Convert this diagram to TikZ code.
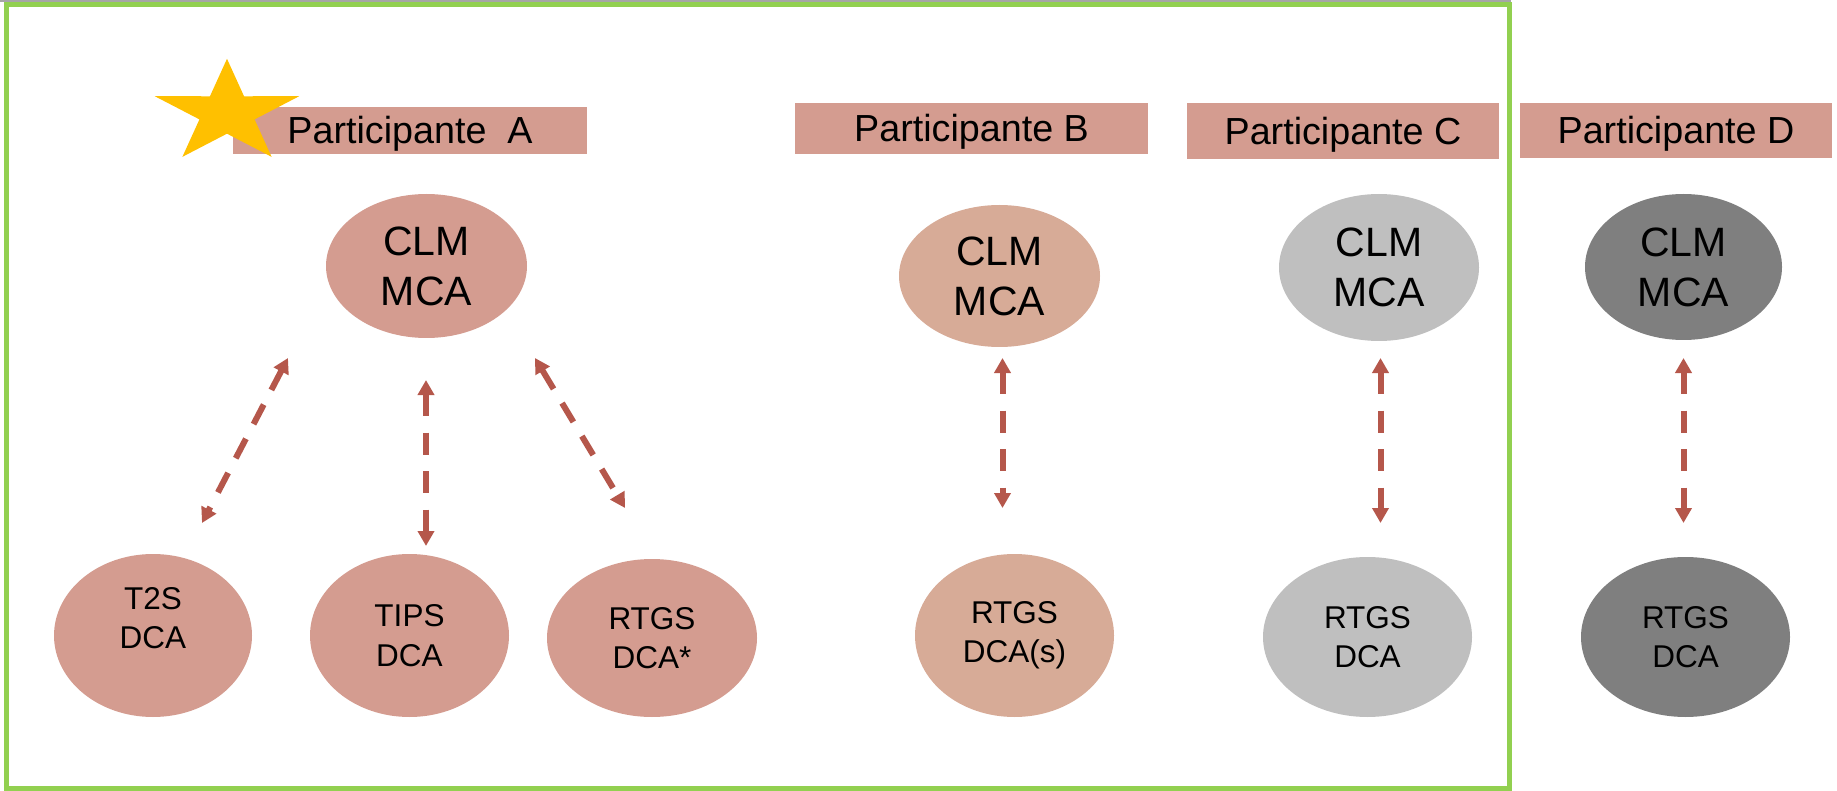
\documentclass[tikz,border=0pt]{standalone}
\usepackage{fontspec}
\setmainfont{Liberation Sans}
\usetikzlibrary{shapes.geometric,arrows.meta}
\definecolor{pinkA}{HTML}{D49C90}
\definecolor{pinkB}{HTML}{D7AB97}
\definecolor{greyC}{HTML}{BFBFBF}
\definecolor{greyD}{HTML}{7F7F7F}
\definecolor{arrowc}{HTML}{B5574B}
\definecolor{starc}{HTML}{FFC000}
\definecolor{frameg}{HTML}{92D050}
\definecolor{topgrey}{HTML}{A6A6A6}
\begin{document}
\begin{tikzpicture}[x=0.5pt,y=-0.5pt,
  lab/.style={rectangle, inner sep=0pt, fill=pinkA, font=\fontsize{18.85}{22}\selectfont, text height=13.5pt, text depth=0pt},
  clmnode/.style={ellipse, inner sep=0pt, align=center, font=\fontsize{20.5}{25}\selectfont},
  dcanode/.style={ellipse, inner sep=0pt, align=center, font=\fontsize{15.75}{19.75}\selectfont},
  dcatext/.style={inner sep=0pt, align=center, font=\fontsize{15.75}{19.75}\selectfont},
  xlink/.style={draw=arrowc, line width=3pt, dash pattern=on 11pt off 8.25pt, {Triangle[width=8pt,length=7.5pt]}-{Triangle[width=8pt,length=7.5pt]}},
]
\useasboundingbox (0,0) rectangle (1837,791);
% frame
\draw[topgrey, line width=1pt] (0,1) -- (1511,1);
\draw[frameg, line width=2.5pt] (6.5,5) rectangle (1509.5,788.5);

% participant labels
\node[lab, minimum width=177pt, minimum height=23.5pt] (pA) at (410,130.5) {Participante~~A};
\node[lab, minimum width=176.5pt, minimum height=25.5pt] (pB) at (971.5,128.5) {Participante B};
\node[lab, minimum width=156pt, minimum height=28pt] (pC) at (1343,131) {Participante C};
\node[lab, minimum width=156pt, minimum height=27.5pt] (pD) at (1676,130.5) {Participante D};

% star
\begin{scope}[shift={(227,113)}, xscale=1.4]
\fill[starc] (-90:54.2) -- (-54:20.7) -- (-18:54.2) -- (18:20.7) -- (54:54.2) -- (90:20.7) -- (126:54.2) -- (162:20.7) -- (198:54.2) -- (234:20.7) -- cycle;
\end{scope}

% CLM MCA
\node[clmnode, fill=pinkA, minimum width=100.5pt, minimum height=72pt] (cA) at (426.5,266) {CLM\\MCA};
\node[clmnode, fill=pinkB, minimum width=100.5pt, minimum height=71pt] (cB) at (999.5,276) {CLM\\MCA};
\node[clmnode, fill=greyC, minimum width=100pt, minimum height=73.5pt] (cC) at (1379,267.5) {CLM\\MCA};
\node[clmnode, fill=greyD, minimum width=98.5pt, minimum height=73pt] (cD) at (1683.5,267) {CLM\\MCA};

% DCAs
\node[dcanode, fill=pinkA, minimum width=99pt, minimum height=81.5pt] (t2s) at (153,635.5) {};
\node[dcatext] (t2slbl) at (153,618) {T2S\\DCA};
\node[dcanode, fill=pinkA, minimum width=99.5pt, minimum height=81.5pt] (tips) at (409.5,635.5) {TIPS\\DCA};
\node[dcanode, fill=pinkA, minimum width=105pt, minimum height=79pt] (rtgsA) at (652,638) {RTGS\\DCA*};
\node[dcanode, fill=pinkB, minimum width=99.5pt, minimum height=81.5pt] (rtgsB) at (1014.5,635.5) {RTGS\\DCA(s)};
\node[dcanode, fill=greyC, minimum width=104.5pt, minimum height=80pt] (rtgsC) at (1367.5,637) {RTGS\\DCA};
\node[dcanode, fill=greyD, minimum width=104.5pt, minimum height=80pt] (rtgsD) at (1685.5,637) {RTGS\\DCA};

% arrows
\coordinate (a1s) at (288,358);   \coordinate (a1e) at (202,523);
\coordinate (a2s) at (426,380);   \coordinate (a2e) at (426,546);
\coordinate (a3s) at (535,358);   \coordinate (a3e) at (625,508);
\coordinate (aBs) at (1002.5,358); \coordinate (aBe) at (1002.5,508);
\coordinate (aCs) at (1380.5,358); \coordinate (aCe) at (1380.5,523);
\coordinate (aDs) at (1683.5,358); \coordinate (aDe) at (1683.5,523);
\draw[xlink] (a1s) -- (a1e);
\draw[xlink] (a2s) -- (a2e);
\draw[xlink] (a3s) -- (a3e);
\draw[xlink] (aBs) -- (aBe);
\draw[xlink] (aCs) -- (aCe);
\draw[xlink] (aDs) -- (aDe);
\end{tikzpicture}
\end{document}
